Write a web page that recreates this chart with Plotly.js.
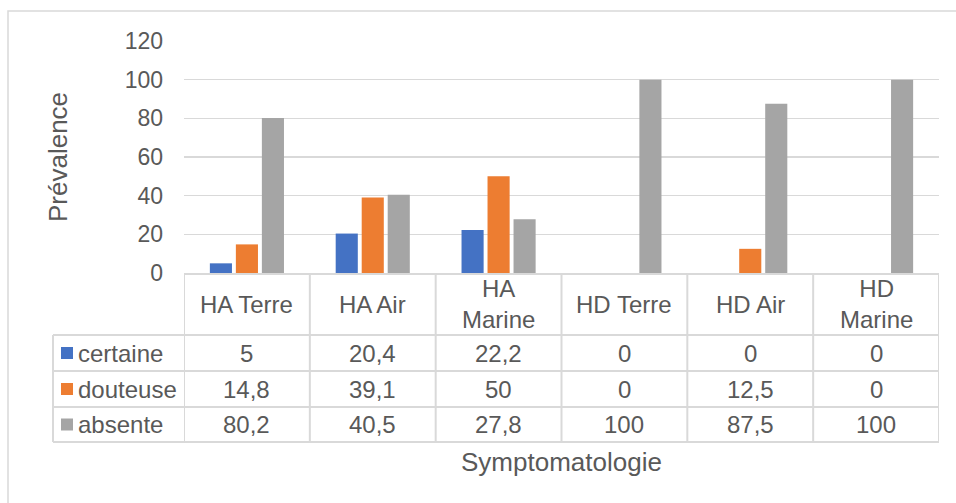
<!DOCTYPE html>
<html>
<head>
<meta charset="utf-8">
<script src="https://cdn.plot.ly/plotly-3.0.1.min.js"></script>
<style>html,body{margin:0;padding:0;background:#fff;}#chart{width:956px;height:503px;}</style>
</head>
<body>
<div id="chart"></div>
<script>
const categories = ["HA Terre", "HA Air", "HA<br>Marine", "HD Terre", "HD Air", "HD<br>Marine"];
const seriesNames = ["certaine", "douteuse", "absente"];
const certaine = [5, 20.4, 22.2, 0, 0, 0];
const douteuse = [14.8, 39.1, 50, 0, 12.5, 0];
const absente = [80.2, 40.5, 27.8, 100, 87.5, 100];
const seriesColors = ["#4472C4", "#ED7D31", "#A5A5A5"];
const yTitle = "Prévalence";
const xTitle = "Symptomatologie";

const allSeries = [certaine, douteuse, absente];
const W = 956, H = 503;
const M = {l: 184, r: 17, t: 41, b: 230};
const plotW = W - M.l - M.r, plotH = H - M.t - M.b;
const px = x => (x - M.l) / plotW;
const py = y => (H - M.b - y) / plotH;

const txtColor = "#595959";
const lineColor = "#D9D9D9";
const font = "Liberation Sans, Arial, sans-serif";
const tableSize = 24;
const catIdx = categories.map((_, i) => i);

const traces = allSeries.map((vals, s) => ({
  type: "bar",
  name: seriesNames[s],
  x: catIdx,
  y: vals,
  marker: {color: seriesColors[s]},
  hoverinfo: "x+y"
}));

const fmt = v => String(v).replace(".", ",");

// table geometry (pixels)
const headTop = 273, rowEdges = [335, 371, 407, 442];
const legLeft = 53;
const shapes = [];
const annotations = [];

// outer frame
shapes.push({type: "rect", xref: "paper", yref: "paper", x0: px(8), x1: px(960), y0: py(11), y1: py(510),
  line: {color: lineColor, width: 1.5}, fillcolor: "rgba(0,0,0,0)", layer: "below"});

// horizontal table lines
rowEdges.forEach(y => shapes.push({type: "line", xref: "paper", yref: "paper",
  x0: px(legLeft), x1: 1, y0: py(y), y1: py(y), line: {color: lineColor, width: 2}}));
// vertical lines at category boundaries
for (let i = 0; i <= categories.length; i++) {
  shapes.push({type: "line", xref: "x", yref: "paper", x0: i - 0.5, x1: i - 0.5,
    y0: py(headTop), y1: py(rowEdges[3]), line: {color: lineColor, width: 2}});
}
// legend column left line
shapes.push({type: "line", xref: "paper", yref: "paper", x0: px(legLeft), x1: px(legLeft),
  y0: py(rowEdges[0]), y1: py(rowEdges[3]), line: {color: lineColor, width: 2}});

// header texts
categories.forEach((c, i) => annotations.push({xref: "x", yref: "paper", x: i, y: py((headTop + rowEdges[0]) / 2),
  text: c, showarrow: false, xanchor: "center", yanchor: "middle", font: {size: tableSize, color: txtColor, family: font}}));

// rows
allSeries.forEach((vals, s) => {
  const yc = (rowEdges[s] + rowEdges[s + 1]) / 2;
  shapes.push({type: "rect", xref: "paper", yref: "paper", x0: px(61), x1: px(73), y0: py(yc - 6), y1: py(yc + 6),
    fillcolor: seriesColors[s], line: {width: 0}});
  annotations.push({xref: "paper", yref: "paper", x: px(76), y: py(yc), text: seriesNames[s], showarrow: false,
    xanchor: "left", yanchor: "middle", font: {size: tableSize, color: txtColor, family: font}});
  vals.forEach((v, i) => annotations.push({xref: "x", yref: "paper", x: i, y: py(yc), text: fmt(v), showarrow: false,
    xanchor: "center", yanchor: "middle", font: {size: tableSize, color: txtColor, family: font}}));
});

// axis titles
annotations.push({xref: "paper", yref: "paper", x: px(561), y: py(462), text: xTitle, showarrow: false,
  xanchor: "center", yanchor: "middle", font: {size: 26, color: txtColor, family: font}});
annotations.push({xref: "paper", yref: "paper", x: px(58), y: py(157), text: yTitle, showarrow: false, textangle: -90,
  xanchor: "center", yanchor: "middle", font: {size: 26, color: txtColor, family: font}});

const layout = {
  width: W, height: H,
  margin: M,
  paper_bgcolor: "#fff", plot_bgcolor: "#fff",
  showlegend: false,
  barmode: "group",
  bargap: 0.38,
  bargroupgap: 0.15,
  font: {family: font, color: txtColor, size: 23},
  xaxis: {type: "linear", range: [-0.5, categories.length - 0.5], showticklabels: false, showgrid: false,
    zeroline: false, showline: true, linecolor: lineColor, linewidth: 2, fixedrange: true},
  yaxis: {range: [0, 120], dtick: 20, tick0: 0, showgrid: true, gridcolor: lineColor, gridwidth: 1.5,
    zeroline: false, showline: false, ticks: "", ticklabelstandoff: 20,
    tickfont: {size: 23, color: txtColor, family: font}, fixedrange: true},
  shapes: shapes,
  annotations: annotations
};

Plotly.newPlot("chart", traces, layout, {displayModeBar: false, staticPlot: true});
</script>
</body>
</html>
